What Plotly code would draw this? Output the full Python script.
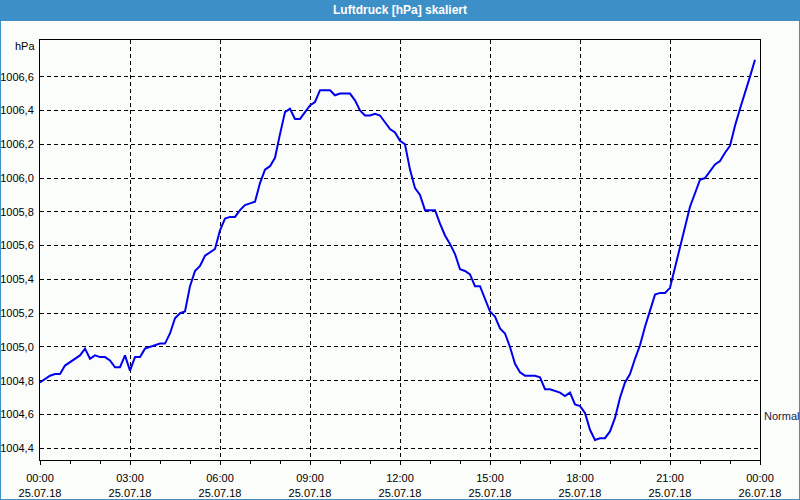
import datetime as dt
import plotly.graph_objects as go

# ---- data (10-minute readings, 25.07.18) ----
start = dt.datetime(2018, 7, 25, 0, 0)
pressure_hpa = [
    1004.79, 1004.81, 1004.83, 1004.84, 1004.84, 1004.89, 1004.91, 1004.93, 1004.95, 1004.99,
    1004.93, 1004.95, 1004.94, 1004.94, 1004.92, 1004.88, 1004.88, 1004.95, 1004.86, 1004.94,
    1004.94, 1004.99, 1005.00, 1005.01, 1005.02, 1005.02, 1005.08, 1005.17, 1005.20, 1005.21,
    1005.36, 1005.45, 1005.48, 1005.54, 1005.56, 1005.58, 1005.69, 1005.76, 1005.77, 1005.77,
    1005.81, 1005.84, 1005.85, 1005.86, 1005.97, 1006.05, 1006.07, 1006.12, 1006.26, 1006.39,
    1006.41, 1006.35, 1006.35, 1006.39, 1006.43, 1006.45, 1006.52, 1006.52, 1006.52, 1006.49,
    1006.50, 1006.50, 1006.50, 1006.46, 1006.40, 1006.37, 1006.37, 1006.38, 1006.37, 1006.33,
    1006.29, 1006.27, 1006.22, 1006.20, 1006.05, 1005.94, 1005.90, 1005.81, 1005.81, 1005.81,
    1005.73, 1005.66, 1005.61, 1005.55, 1005.46, 1005.45, 1005.43, 1005.36, 1005.36, 1005.29,
    1005.21, 1005.18, 1005.11, 1005.08, 1005.00, 1004.90, 1004.85, 1004.83, 1004.83, 1004.83,
    1004.82, 1004.75, 1004.75, 1004.74, 1004.73, 1004.71, 1004.73, 1004.66, 1004.65, 1004.61,
    1004.51, 1004.45, 1004.46, 1004.46, 1004.50, 1004.58, 1004.70, 1004.79, 1004.84, 1004.93,
    1005.01, 1005.12, 1005.21, 1005.31, 1005.32, 1005.32, 1005.35, 1005.47, 1005.59, 1005.72,
    1005.83, 1005.91, 1005.99, 1006.00, 1006.04, 1006.08, 1006.10, 1006.15, 1006.19, 1006.31,
    1006.41, 1006.50, 1006.60, 1006.70,
]
times = [start + dt.timedelta(minutes=10 * i) for i in range(len(pressure_hpa))]

x_tick_vals = [start + dt.timedelta(hours=3 * i) for i in range(9)]
x_tick_text = [
    "00:00<br>25.07.18", "03:00<br>25.07.18", "06:00<br>25.07.18", "09:00<br>25.07.18",
    "12:00<br>25.07.18", "15:00<br>25.07.18", "18:00<br>25.07.18", "21:00<br>25.07.18",
    "00:00<br>26.07.18",
]
y_tick_vals = [1004.4, 1004.6, 1004.8, 1005.0, 1005.2, 1005.4, 1005.6, 1005.8,
               1006.0, 1006.2, 1006.4, 1006.6]
normal_level = 1004.59

FONT = "Liberation Sans"
W, H = 800, 500
L, R, T, B = 40, 40, 40, 40
pw, ph = W - L - R, H - T - B


def px_x(px):
    return (px - L) / pw


def px_y(py):
    return (H - B - py) / ph


fig = go.Figure()
fig.add_trace(go.Scatter(
    x=times, y=pressure_hpa, mode="lines",
    line=dict(color="#0000ee", width=2), hoverinfo="skip", showlegend=False,
))

fig.update_layout(
    width=W, height=H,
    margin=dict(l=L, r=R, t=T, b=B, autoexpand=False),
    paper_bgcolor="#fbfdfb", plot_bgcolor="#fbfdfb",
    separators=",.",
    font=dict(family=FONT, size=11, color="#000000"),
    showlegend=False,
    xaxis=dict(
        range=[start, start + dt.timedelta(hours=24)],
        tickvals=x_tick_vals, ticktext=x_tick_text,
        showline=True, linecolor="#000000", linewidth=1, mirror=True,
        ticks="outside", ticklen=4, tickcolor="#000000",
        ticklabelstandoff=4,
        showgrid=True, gridcolor="#000000", gridwidth=1, griddash="4px,3px",
        minor=dict(dtick=3600000, ticks="outside", ticklen=3, tickcolor="#000000", showgrid=False),
        zeroline=False, automargin=False,
        tickfont=dict(family=FONT, size=11),
    ),
    yaxis=dict(
        range=[1004.331, 1006.817],
        tickvals=y_tick_vals, tickformat=".1f",
        showline=True, linecolor="#000000", linewidth=1, mirror=True,
        ticks="", ticklabelstandoff=3,
        showgrid=True, gridcolor="#000000", gridwidth=1, griddash="4px,3px",
        zeroline=False, automargin=False,
        tickfont=dict(family=FONT, size=11),
    ),
    shapes=[
        dict(type="rect", xref="paper", yref="paper",
             x0=px_x(0), x1=px_x(W), y0=px_y(H), y1=px_y(0),
             line=dict(color="#3d8fc7", width=2), fillcolor="rgba(0,0,0,0)", layer="above"),
        dict(type="rect", xref="paper", yref="paper",
             x0=px_x(0), x1=px_x(W), y0=px_y(21), y1=px_y(0),
             line=dict(width=0), fillcolor="#3d8fc7", layer="above"),
    ],
    annotations=[
        dict(text="<b>Luftdruck [hPa] skaliert</b>", xref="paper", yref="paper",
             x=px_x(400), y=px_y(10), xanchor="center", yanchor="middle",
             showarrow=False, font=dict(family=FONT, size=12, color="#ffffff")),
        dict(text="hPa", xref="paper", yref="paper",
             x=px_x(37), y=px_y(46), xanchor="right", yanchor="middle",
             showarrow=False, font=dict(family=FONT, size=11, color="#000000")),
        dict(text="Normal", xref="paper", yref="y",
             x=px_x(762), y=normal_level, xanchor="left", yanchor="middle",
             showarrow=False, font=dict(family=FONT, size=11, color="#1a1a3a")),
    ],
)

fig.write_html("out.html")
